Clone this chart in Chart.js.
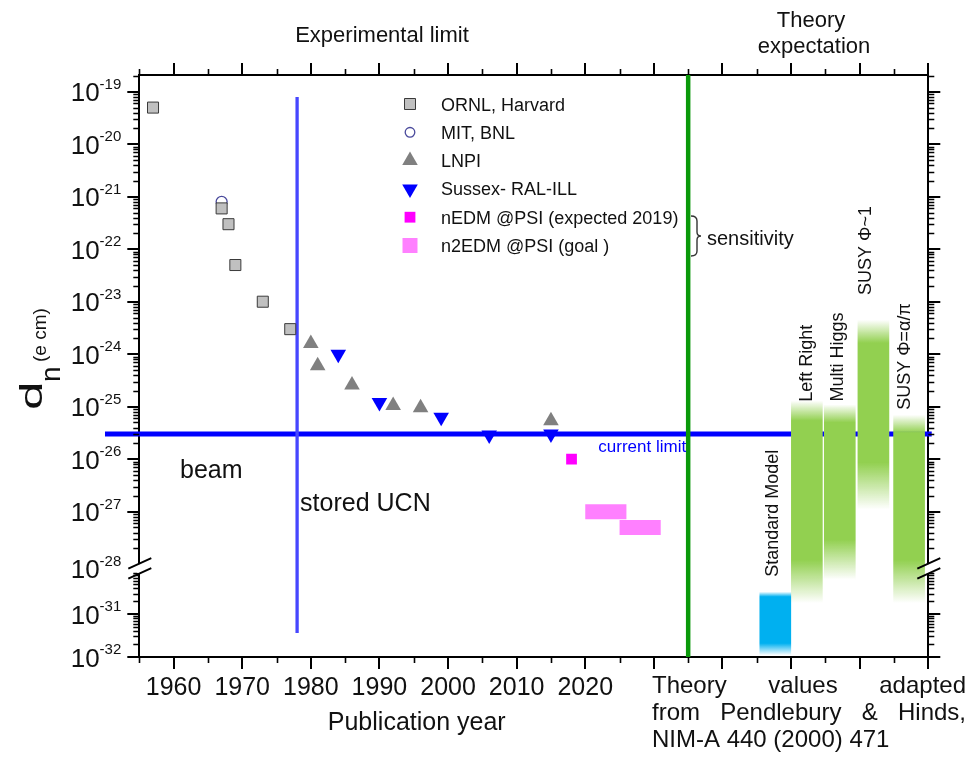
<!DOCTYPE html>
<html>
<head>
<meta charset="utf-8">
<title>Neutron EDM limits</title>
<script src="https://cdn.jsdelivr.net/npm/chart.js@4.4.1/dist/chart.umd.min.js"></script>
<style>
  html, body { margin: 0; padding: 0; background: #fff; }
  #wrap { width: 980px; height: 767px; }
  canvas { display: block; }
</style>
</head>
<body>
<div id="wrap"><canvas id="edm" width="980" height="767"></canvas></div>
<script>
// ---- measurements: year of publication and upper limit on d_n (e cm) ----
const ornlYears    = [1957, 1967, 1968, 1969, 1973, 1977];
const ornlValues   = [5e-20, 6e-22, 3e-22, 5e-23, 1e-23, 3e-24];
const mitYears     = [1967];
const mitValues    = [8e-22];
const lnpiYears    = [1980, 1981, 1986, 1992, 1996, 2015];
const lnpiValues   = [1.6e-24, 6e-25, 2.6e-25, 1.05e-25, 9.5e-26, 5.4e-26];
const sussexYears  = [1984, 1990, 1999, 2006, 2015];
const sussexValues = [1e-24, 1.2e-25, 6.3e-26, 2.9e-26, 3.0e-26];
const nedmYears    = [2018];
const nedmValues   = [1e-26];
// n2EDM goal: sensitivity bands over a period of years
const n2edmStart   = [2020, 2025];
const n2edmEnd     = [2026, 2031];
const n2edmValues  = [1e-27, 5e-28];

const seriesNames = ['ORNL, Harvard', 'MIT, BNL', 'LNPI', 'Sussex- RAL-ILL',
                     'nEDM @PSI (expected 2019)', 'n2EDM @PSI (goal )'];

// current experimental limit and its horizontal extent (years)
const currentLimit = 3.0e-26;
const limitSpan = [1950, 2070.5];
// beam -> stored UCN transition and its vertical extent
const ucnYear = 1978;
const ucnRange = [8e-20, 3.6e-32];
// boundary between experiment and theory columns
const theoryStartYear = 2035;

// theory predictions (floating ranges)
const theoryNames = ['Standard Model', 'Left Right', 'Multi Higgs', 'SUSY \u03A6~1', 'SUSY \u03A6=\u03B1/\u03C0'];
const theoryX     = [2047.7, 2052.3, 2057.1, 2062.0, 2067.2];
const theoryHigh  = [3.3e-31, 1.3e-25, 1.1e-25, 4.5e-24, 7e-26];
const theoryLow   = [1.1e-32, 1.8e-31, 6.3e-31, 1.1e-27, 1.8e-31];

// axis ticks
const yTickExponents = [-19, -20, -21, -22, -23, -24, -25, -26, -27, -28, -31, -32];
const xTickLabels = [1960, 1970, 1980, 1990, 2000, 2010, 2020];
const xMajorYears = [1960, 1970, 1980, 1990, 2000, 2010, 2020, 2030, 2040, 2050, 2060, 2070];
const xMinorYears = [1955, 1965, 1975, 1985, 1995, 2005, 2015, 2025, 2035, 2045, 2055, 2065];

// ---- styles ----
const FONT = '"Liberation Sans", Arial, Helvetica, sans-serif';
const INK = '#111';
const theoryRGB = [[0, 176, 240], [146, 208, 80], [146, 208, 80], [146, 208, 80], [146, 208, 80]];
const theoryFadeTop = [5, 20, 18, 23, 18];
const theoryFadeBottom = [12, 43, 40, 47, 43];
const theoryLabelGap = [15, -1, 3, 25, 5];
const theoryLabelShift = [-2, 0, -2, -7, -4];

// ---- broken log axis: decades 1e-19..1e-28 on top, 1e-30..1e-32 compressed below ----
const Y_MAX = -18.68, Y_MIN = -29.77;
const LOWER_SCALE = 0.819;
function toDisp(v) {
  const L = Math.log10(v);
  if (L >= -28) return L;
  if (L <= -30) return Y_MIN + (L + 32) * LOWER_SCALE;
  const a = Y_MIN + 2 * LOWER_SCALE;
  return a + (L + 30) / 2 * (-28 - a);
}
const pts = (xs, vs) => xs.map((x, i) => ({ x: x, y: toDisp(vs[i]) }));

function theoryFill(ctx) {
  const i = ctx.dataIndex || 0;
  const c = theoryRGB[i] || theoryRGB[1];
  const solid = `rgb(${c[0]},${c[1]},${c[2]})`;
  const chart = ctx.chart;
  const ys = chart.scales && chart.scales.y;
  if (ctx.type !== 'data' || !ys || !chart.chartArea) return solid;
  const top = ys.getPixelForValue(toDisp(theoryHigh[i]));
  const bot = ys.getPixelForValue(toDisp(theoryLow[i]));
  const h = bot - top;
  if (!(h > 0)) return solid;
  const g = chart.ctx.createLinearGradient(0, top, 0, bot);
  const clear = `rgba(${c[0]},${c[1]},${c[2]},0)`;
  g.addColorStop(0, clear);
  g.addColorStop(Math.min(0.49, theoryFadeTop[i] / h), solid);
  g.addColorStop(Math.max(0.51, 1 - theoryFadeBottom[i] / h), solid);
  g.addColorStop(1, clear);
  return g;
}

// ---- marker shapes (legend) ----
function drawMarker(ctx, kind, x, y) {
  ctx.save();
  ctx.beginPath();
  if (kind === 'ornl') {
    ctx.rect(x - 5.5, y - 5.5, 11, 11);
    ctx.fillStyle = '#c0c0c0'; ctx.fill();
    ctx.lineWidth = 1; ctx.strokeStyle = '#3a3a3a'; ctx.stroke();
  } else if (kind === 'mit') {
    ctx.arc(x, y, 4.8, 0, Math.PI * 2);
    ctx.lineWidth = 1.3; ctx.strokeStyle = '#4a4a9c'; ctx.stroke();
  } else if (kind === 'lnpi' || kind === 'sussex') {
    const r = 9, s = kind === 'lnpi' ? 1 : -1;
    ctx.moveTo(x, y - s * r);
    ctx.lineTo(x + r * 0.866, y + s * r / 2);
    ctx.lineTo(x - r * 0.866, y + s * r / 2);
    ctx.closePath();
    ctx.fillStyle = kind === 'lnpi' ? '#808080' : '#0000ff'; ctx.fill();
  } else if (kind === 'nedm') {
    ctx.rect(x - 5.4, y - 5.4, 10.8, 10.8);
    ctx.fillStyle = '#ff00ff'; ctx.fill();
  } else {
    ctx.rect(x - 7.5, y - 7.5, 15, 15);
    ctx.fillStyle = '#ff80ff'; ctx.fill();
  }
  ctx.restore();
}

function drawBreak(ctx, xc, yc) {
  ctx.save();
  ctx.fillStyle = '#fff';
  ctx.fillRect(xc - 2, yc - 4.5, 4, 9);
  ctx.strokeStyle = '#000'; ctx.lineWidth = 2;
  ctx.beginPath();
  [-5, 5].forEach(d => {
    ctx.moveTo(xc - 11, yc + d + 5);
    ctx.lineTo(xc + 12, yc + d - 5.4);
  });
  ctx.stroke();
  ctx.restore();
}

const decorations = {
  id: 'decorations',
  afterDraw(chart) {
    const ctx = chart.ctx, a = chart.chartArea;
    const xs = chart.scales.x, ys = chart.scales.y;

    // minor ticks: log sub-decades on the y axes, 5-year marks on the x axes
    ctx.save();
    ctx.strokeStyle = '#000'; ctx.lineWidth = 1.6;
    ctx.beginPath();
    const decades = [-32, -31, -28, -27, -26, -25, -24, -23, -22, -21, -20, -19];
    decades.forEach(e => {
      for (let k = 2; k <= 9; k++) {
        const d = toDisp(k * Math.pow(10, e));
        if (d > Y_MAX) continue;
        const py = Math.round(ys.getPixelForValue(d)) + 0.5;
        ctx.moveTo(a.left - 6, py); ctx.lineTo(a.left, py);
        ctx.moveTo(a.right, py); ctx.lineTo(a.right + 6, py);
      }
    });
    xMinorYears.forEach(yr => {
      const px = Math.round(xs.getPixelForValue(yr)) + 0.5;
      ctx.moveTo(px, a.bottom); ctx.lineTo(px, a.bottom + 6);
      ctx.moveTo(px, a.top); ctx.lineTo(px, a.top - 6);
    });
    ctx.stroke();
    ctx.restore();

    // axis breaks
    const yBreak = (ys.getPixelForValue(-28) + ys.getPixelForValue(toDisp(1e-30))) / 2 + 1;
    drawBreak(ctx, a.left, yBreak);
    drawBreak(ctx, a.right, yBreak);

    // y tick labels 10^n
    ctx.save();
    ctx.fillStyle = INK;
    ctx.textBaseline = 'alphabetic';
    yTickExponents.forEach(e => {
      const py = e === -28 ? yBreak : ys.getPixelForValue(toDisp(Math.pow(10, e)));
      const sup = String(e);
      ctx.font = `15px ${FONT}`;
      const sw = ctx.measureText(sup).width;
      const right = a.left - 18;
      ctx.textAlign = 'left';
      ctx.fillText(sup, right - sw, py - 3);
      ctx.font = `26px ${FONT}`;
      ctx.textAlign = 'right';
      ctx.fillText('10', right - sw, py + 9.5);
    });
    ctx.restore();

    // y axis title: d_n (e cm)
    ctx.save();
    ctx.fillStyle = INK;
    ctx.translate(42, 410);
    ctx.rotate(-Math.PI / 2);
    ctx.textAlign = 'left'; ctx.textBaseline = 'alphabetic';
    ctx.save(); ctx.scale(1.6, 1); ctx.font = `32px ${FONT}`; ctx.fillText('d', 0, 0); ctx.restore();
    ctx.font = `28px ${FONT}`; ctx.fillText('n', 28, 18);
    ctx.font = `19px ${FONT}`; ctx.fillText('(e cm)', 48, 4);
    ctx.restore();

    // x axis title, centred under the experimental part
    ctx.save();
    ctx.fillStyle = INK; ctx.font = `25px ${FONT}`;
    ctx.textAlign = 'center'; ctx.textBaseline = 'alphabetic';
    ctx.fillText('Publication year', (a.left + xs.getPixelForValue(theoryStartYear)) / 2 + 3, 730);

    // section headings
    ctx.font = `22px ${FONT}`;
    ctx.fillText('Experimental limit', 382, 42);
    ctx.fillText('Theory', 811, 27);
    ctx.fillText('expectation', 814, 53);

    // beam / stored UCN regions
    ctx.textAlign = 'left';
    ctx.font = `25px ${FONT}`;
    ctx.fillText('beam', 180, 478);
    ctx.fillText('stored UCN', xs.getPixelForValue(ucnYear) + 3, 511);

    // current limit label
    ctx.fillStyle = '#0000ff';
    ctx.font = `17px ${FONT}`;
    ctx.textAlign = 'right';
    ctx.fillText('current limit', xs.getPixelForValue(theoryStartYear) - 2, ys.getPixelForValue(toDisp(currentLimit)) + 18);
    ctx.restore();

    // legend
    ctx.save();
    const kinds = ['ornl', 'mit', 'lnpi', 'sussex', 'nedm', 'n2edm'];
    ctx.font = `18px ${FONT}`;
    ctx.fillStyle = INK; ctx.textAlign = 'left'; ctx.textBaseline = 'alphabetic';
    kinds.forEach((k, i) => {
      const cy = 104 + i * 28.3;
      drawMarker(ctx, k, 410, cy);
      ctx.fillStyle = INK;
      ctx.fillText(seriesNames[i], 441, cy + 6.5);
    });
    // brace grouping the two sensitivity entries
    ctx.strokeStyle = '#333'; ctx.lineWidth = 1.4;
    ctx.beginPath();
    ctx.moveTo(691, 216);
    ctx.quadraticCurveTo(697, 216, 697, 221);
    ctx.lineTo(697, 232);
    ctx.quadraticCurveTo(697, 236, 701, 236);
    ctx.quadraticCurveTo(697, 236, 697, 240);
    ctx.lineTo(697, 251);
    ctx.quadraticCurveTo(697, 256, 691, 256);
    ctx.stroke();
    ctx.font = `20px ${FONT}`;
    ctx.fillText('sensitivity', 707, 245);
    ctx.restore();

    // theory labels, rotated above each band
    ctx.save();
    ctx.fillStyle = INK; ctx.font = `18px ${FONT}`;
    ctx.textAlign = 'left'; ctx.textBaseline = 'middle';
    theoryNames.forEach((name, i) => {
      const cx = xs.getPixelForValue(theoryX[i]) + theoryLabelShift[i];
      const top = ys.getPixelForValue(toDisp(theoryHigh[i]));
      ctx.save();
      ctx.translate(cx, top - theoryLabelGap[i]);
      ctx.rotate(-Math.PI / 2);
      ctx.fillText(name, 0, 0);
      ctx.restore();
    });
    ctx.restore();

    // source note, justified
    ctx.save();
    ctx.fillStyle = INK; ctx.font = `24px ${FONT}`;
    ctx.textAlign = 'left'; ctx.textBaseline = 'alphabetic';
    const justify = (text, x0, x1, y) => {
      const words = text.split(' ');
      const w = words.map(t => ctx.measureText(t).width);
      const gap = (x1 - x0 - w.reduce((s, v) => s + v, 0)) / (words.length - 1);
      let x = x0;
      words.forEach((t, i) => { ctx.fillText(t, x, y); x += w[i] + gap; });
    };
    justify('Theory values adapted', 652, 966, 693);
    justify('from Pendlebury & Hinds,', 652, 966, 720);
    ctx.fillText('NIM-A 440 (2000) 471', 652, 747);
    ctx.restore();
  }
};

const axisCommon = () => ({
  type: 'linear',
  offset: false,
  beginAtZero: false,
  grid: { offset: false, drawOnChartArea: false, drawTicks: true, tickLength: 12, tickWidth: 2, tickColor: '#000', lineWidth: 2, color: '#000' },
  border: { display: true, color: '#000', width: 2 }
});

const chart = new Chart(document.getElementById('edm'), {
  type: 'scatter',
  data: {
    datasets: [
      { label: seriesNames[0], type: 'scatter', xAxisID: 'x', yAxisID: 'y', order: 1,
        data: pts(ornlYears, ornlValues), pointStyle: 'rect', pointRadius: 7.8,
        pointBackgroundColor: '#c0c0c0', pointBorderColor: '#3a3a3a', pointBorderWidth: 1 },
      { label: seriesNames[1], type: 'scatter', xAxisID: 'x', yAxisID: 'y', order: 1,
        data: pts(mitYears, mitValues), pointStyle: 'circle', pointRadius: 5.5,
        pointBackgroundColor: 'rgba(255,255,255,0)', pointBorderColor: '#4a4a9c', pointBorderWidth: 1.3 },
      { label: seriesNames[2], type: 'scatter', xAxisID: 'x', yAxisID: 'y', order: 1,
        data: pts(lnpiYears, lnpiValues), pointStyle: 'triangle', pointRadius: 9,
        pointBackgroundColor: '#808080', pointBorderColor: '#808080', pointBorderWidth: 0 },
      { label: seriesNames[3], type: 'scatter', xAxisID: 'x', yAxisID: 'y', order: 1,
        data: pts(sussexYears, sussexValues), pointStyle: 'triangle', pointRotation: 180, pointRadius: 9,
        pointBackgroundColor: '#0000ff', pointBorderColor: '#0000ff', pointBorderWidth: 0 },
      { label: seriesNames[4], type: 'scatter', xAxisID: 'x', yAxisID: 'y', order: 1,
        data: pts(nedmYears, nedmValues), pointStyle: 'rect', pointRadius: 7.6,
        pointBackgroundColor: '#ff00ff', pointBorderColor: '#ff00ff', pointBorderWidth: 0 },
      ...n2edmStart.map((s, i) => ({
        label: seriesNames[5], type: 'line', xAxisID: 'x', yAxisID: 'y', order: 2, showLine: true,
        data: [{ x: s, y: toDisp(n2edmValues[i]) }, { x: n2edmEnd[i], y: toDisp(n2edmValues[i]) }],
        borderColor: '#ff80ff', borderWidth: 15, borderCapStyle: 'butt', pointRadius: 0, fill: false
      })),
      { label: 'theory boundary', type: 'line', xAxisID: 'x', yAxisID: 'y', order: 3, showLine: true,
        data: [{ x: theoryStartYear, y: Y_MAX }, { x: theoryStartYear, y: Y_MIN }],
        borderColor: '#0a990a', borderWidth: 4.5, pointRadius: 0, fill: false },
      { label: 'theory', type: 'bar', xAxisID: 'x', yAxisID: 'y', order: 4, grouped: false,
        data: theoryX.map((x, i) => ({ x: x, y: [toDisp(theoryLow[i]), toDisp(theoryHigh[i])] })),
        barThickness: 31, borderWidth: 0, backgroundColor: theoryFill },
      { label: 'beam / UCN', type: 'line', xAxisID: 'x', yAxisID: 'y', order: 5, showLine: true,
        data: [{ x: ucnYear, y: toDisp(ucnRange[0]) }, { x: ucnYear, y: toDisp(ucnRange[1]) }],
        borderColor: '#4646ff', borderWidth: 3.3, pointRadius: 0, fill: false },
      { label: 'current limit', type: 'line', xAxisID: 'x', yAxisID: 'y', order: 6, showLine: true, clip: false,
        data: limitSpan.map(x => ({ x: x, y: toDisp(currentLimit) })),
        borderColor: '#0000ff', borderWidth: 5, borderCapStyle: 'butt', pointRadius: 0, fill: false }
    ]
  },
  options: {
    responsive: false,
    animation: false,
    events: [],
    layout: { padding: 0 },
    plugins: { legend: { display: false }, tooltip: { enabled: false }, title: { display: false } },
    scales: {
      x: Object.assign(axisCommon(), {
        position: 'bottom', min: 1955, max: 2070,
        afterBuildTicks: s => { s.ticks = xMajorYears.map(v => ({ value: v })); },
        afterFit: s => { s.height = 110; },
        ticks: { autoSkip: false, maxRotation: 0, padding: 4, color: INK,
                 font: { family: FONT, size: 25 },
                 callback: v => xTickLabels.includes(v) ? String(v) : '' }
      }),
      x2: Object.assign(axisCommon(), {
        axis: 'x', position: 'top', min: 1955, max: 2070,
        afterBuildTicks: s => { s.ticks = xMajorYears.map(v => ({ value: v })); },
        afterFit: s => { s.height = 75; },
        ticks: { display: false }
      }),
      y: Object.assign(axisCommon(), {
        position: 'left', min: Y_MIN, max: Y_MAX,
        afterBuildTicks: s => { s.ticks = yTickExponents.filter(e => e !== -28).map(e => ({ value: toDisp(Math.pow(10, e)) })); },
        afterFit: s => { s.width = 139.3; },
        ticks: { display: false }
      }),
      y2: Object.assign(axisCommon(), {
        axis: 'y', position: 'right', min: Y_MIN, max: Y_MAX,
        afterBuildTicks: s => { s.ticks = yTickExponents.filter(e => e !== -28).map(e => ({ value: toDisp(Math.pow(10, e)) })); },
        afterFit: s => { s.width = 51.7; },
        ticks: { display: false }
      })
    }
  },
  plugins: [decorations]
});
</script>
</body>
</html>
